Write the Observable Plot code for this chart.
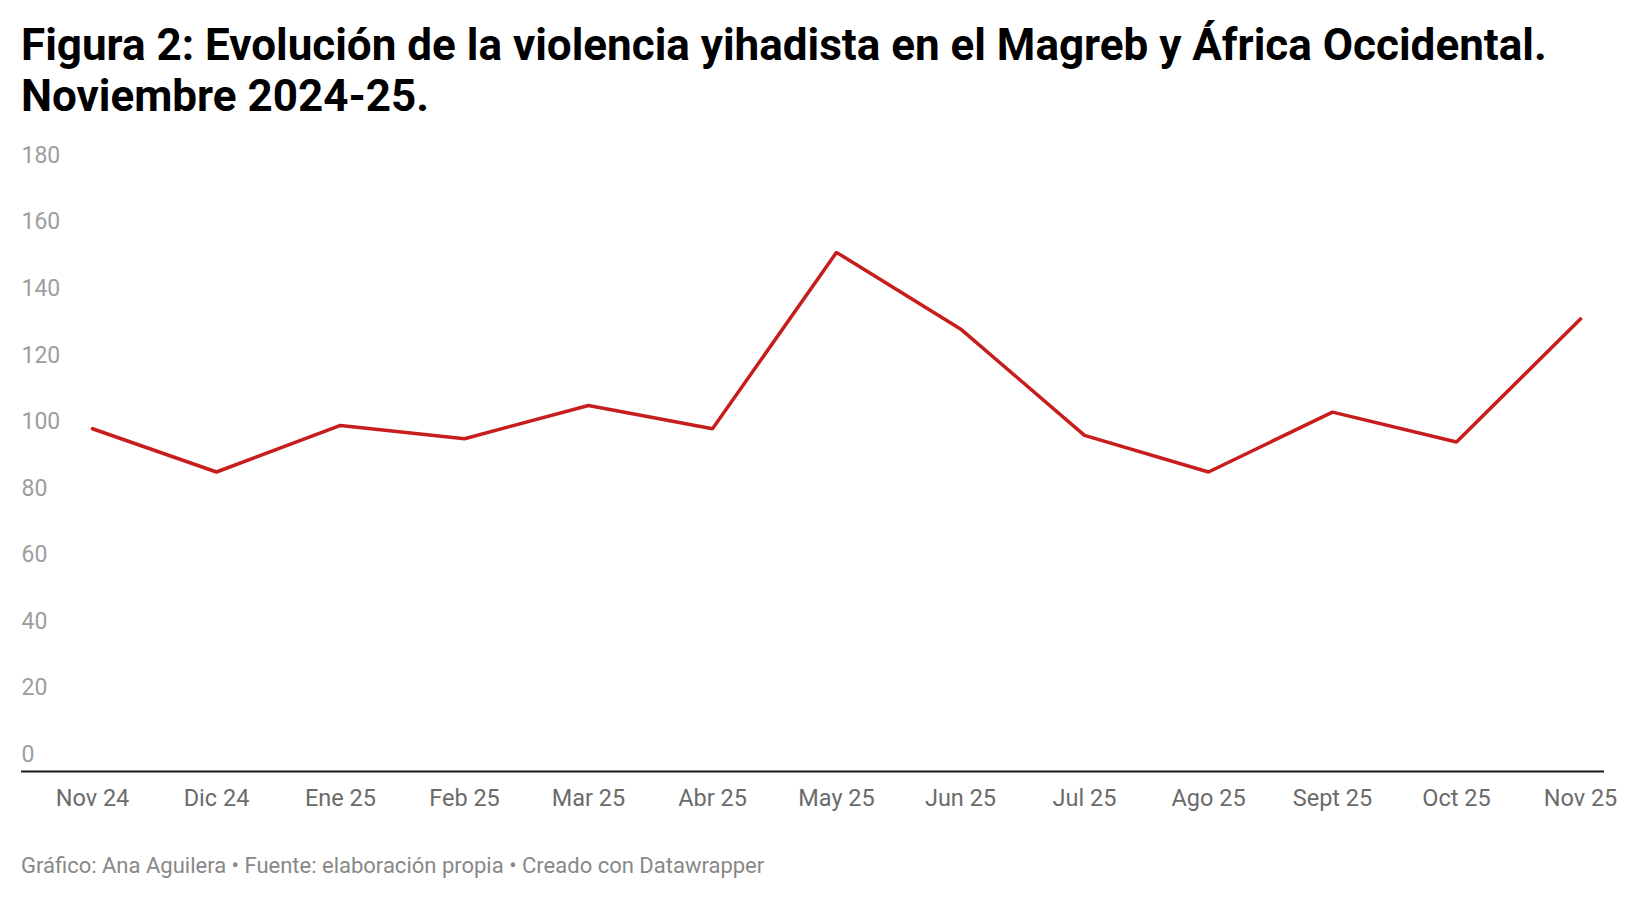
<!DOCTYPE html>
<html>
<head>
<meta charset="utf-8">
<script src="https://cdn.jsdelivr.net/npm/d3@7"></script>
<script src="https://cdn.jsdelivr.net/npm/@observablehq/plot@0.6"></script>
<style>
  html, body { margin: 0; padding: 0; background: #fff; }
  body { width: 1640px; height: 898px; position: relative; font-family: Roboto, "Noto Sans", sans-serif; overflow: hidden; }
  #title { position: absolute; left: 21px; top: 20px; margin: 0; font-size: 44px; line-height: 51px; font-weight: 700; color: #000; letter-spacing: 0; white-space: nowrap; }
  #chart { position: absolute; left: 0; top: 125px; }
  #caption { position: absolute; left: 21px; top: 855px; font-size: 22px; line-height: 22px; color: #888; white-space: nowrap; }
</style>
</head>
<body>
<h1 id="title">Figura 2: Evolución de la violencia yihadista en el Magreb y África Occidental.<br>Noviembre 2024-25.</h1>
<div id="chart"></div>
<div id="caption">Gráfico: Ana Aguilera • Fuente: elaboración propia • Creado con Datawrapper</div>
<script>
const months = ["Nov 24", "Dic 24", "Ene 25", "Feb 25", "Mar 25", "Abr 25", "May 25", "Jun 25", "Jul 25", "Ago 25", "Sept 25", "Oct 25", "Nov 25"];
const values = [103, 90, 104, 100, 110, 103, 156, 133, 101, 90, 108, 99, 136];
const yTicks = [0, 20, 40, 60, 80, 100, 120, 140, 160, 180];

const data = months.map((m, i) => ({month: m, value: values[i]}));

const plot = Plot.plot({
  width: 1640,
  height: 720,
  marginLeft: 21,
  marginRight: 36,
  marginTop: 47,
  marginBottom: 74,
  style: {fontFamily: "Roboto, sans-serif", fontSize: "23px", background: "transparent", overflow: "visible"},
  x: {type: "point", domain: months, range: [88, 1584], padding: 0, label: null},
  y: {domain: [0, 180], label: null},
  marks: [
    Plot.axisY(yTicks, {anchor: "left", tickSize: 0, tickPadding: 0, textAnchor: "start", dy: -17, fill: "#9e9e9e", label: null, fontSize: 23}),
    Plot.axisX({anchor: "bottom", tickSize: 0, tickPadding: 18, fill: "#6b6b6b", label: null, fontSize: 23.5}),
    Plot.ruleY([0], {stroke: "#1a1a1a", strokeWidth: 2}),
    Plot.line(data, {x: "month", y: "value", stroke: "#c71e1d", strokeWidth: 3.5, strokeLinejoin: "miter"})
  ]
});
document.getElementById("chart").appendChild(plot);
</script>
</body>
</html>
